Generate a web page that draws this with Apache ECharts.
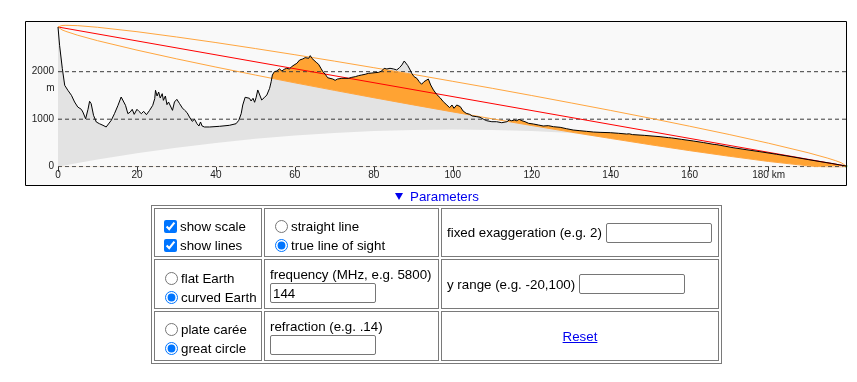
<!DOCTYPE html>
<html>
<head>
<meta charset="utf-8">
<script src="https://cdn.jsdelivr.net/npm/echarts@6/dist/echarts.min.js"></script>
<style>
html,body{margin:0;padding:0;background:#fff;}
body{width:857px;height:382px;position:relative;overflow:hidden;font-family:'Liberation Sans',Arial,sans-serif;font-size:13.33px;color:#000;}
#chart{position:absolute;left:0;top:0;width:857px;height:190px;}
#ptri{position:absolute;left:395px;top:193px;width:0;height:0;border-left:4px solid transparent;border-right:4px solid transparent;border-top:7px solid #0000ee;}
#ptext{position:absolute;left:410px;top:189px;line-height:16px;color:#0000ee;white-space:nowrap;}
#params{position:absolute;left:151px;top:205px;border:1px solid #7a7a7a;border-spacing:2px;border-collapse:separate;}
#params td{border:1px solid #7a7a7a;padding:0;vertical-align:top;white-space:nowrap;}
.c1{width:106px;} .c2{width:173px;} .c3{width:276px;}
.r1{height:47px;} .r2{height:48px;} .r3{height:48px;}
.ln{display:flex;align-items:center;height:19px;}
.ln input[type=checkbox]{margin:0 3px 0 9px;width:13px;height:13px;}
.ln input[type=radio]{margin:0 3px 0 10px;width:13px;height:13px;}
#params td.c3{vertical-align:middle;}
.mid{display:flex;align-items:center;padding-left:5px;}
.tb{width:106px;height:20px;box-sizing:border-box;border:1px solid #767676;border-radius:2px;padding:1px 2px;margin:0 0 0 4px;font:13.33px 'Liberation Sans',Arial,sans-serif;background:#fff;}
.lbl{height:16px;line-height:16px;}
a.rs{color:#0000ee;text-decoration:underline;}
</style>
</head>
<body>
<div id="chart"></div>
<div id="ptri"></div><div id="ptext">Parameters</div>
<table id="params">
<tr>
 <td class="c1 r1"><div style="padding-top:7.5px">
  <div class="ln"><input type="checkbox" checked><span>show scale</span></div>
  <div class="ln"><input type="checkbox" checked><span>show lines</span></div>
 </div></td>
 <td class="c2 r1"><div style="padding-top:7.5px">
  <div class="ln"><input type="radio" name="los"><span>straight line</span></div>
  <div class="ln"><input type="radio" name="los" checked><span>true line of sight</span></div>
 </div></td>
 <td class="c3 r1"><div class="mid"><span>fixed exaggeration (e.g. 2)</span><input type="text" class="tb"></div></td>
</tr>
<tr>
 <td class="c1 r2"><div style="padding-top:8.5px">
  <div class="ln"><input type="radio" name="earth"><span>flat Earth</span></div>
  <div class="ln"><input type="radio" name="earth" checked><span>curved Earth</span></div>
 </div></td>
 <td class="c2 r2"><div style="padding:7px 0 0 5px">
  <div class="lbl">frequency (MHz, e.g. 5800)</div>
  <input type="text" class="tb" style="margin:0;display:block" value="144">
 </div></td>
 <td class="c3 r2"><div class="mid"><span>y range (e.g. -20,100)</span><input type="text" class="tb"></div></td>
</tr>
<tr>
 <td class="c1 r3"><div style="padding-top:7.5px">
  <div class="ln"><input type="radio" name="proj"><span>plate carée</span></div>
  <div class="ln"><input type="radio" name="proj" checked><span>great circle</span></div>
 </div></td>
 <td class="c2 r3"><div style="padding:6.5px 0 0 5px">
  <div class="lbl">refraction (e.g. .14)</div>
  <input type="text" class="tb" style="margin:0;display:block">
 </div></td>
 <td class="c3 r3" style="text-align:center"><a class="rs" href="#">Reset</a></td>
</tr>
</table>
<script>
// ---- data ----
const xTicks = [0, 20, 40, 60, 80, 100, 120, 140, 160, 180];
const xTickLabels = ['0', '20', '40', '60', '80', '100', '120', '140', '160', '180 km'];
const yTicks = [0, 1000, 2000];
const yTickLabels = ['0', '1000', '2000'];
const yUnit = 'm';
const pathLengthKm = 199.6;

// terrain profile [km, metres] (drawn on curved Earth)
const terrain = [
[0,2941],[0.4,2555],[1.1,2063],[1.7,1713],[2.5,1608],[3.4,1503],[4.2,1362],[5.0,1257],[5.9,1208],[6.3,1151],
[7.0,1010],[7.6,1208],[8.0,1377],[8.4,1327],[9.0,1082],[9.7,941],[10.5,905],[11.4,871],[12.2,836],[12.7,850],
[13.5,977],[14.3,1116],[15.2,1292],[16.0,1467],[16.5,1432],[17.1,1292],[17.7,1116],[18.3,1151],[18.8,1208],[19.3,1102],
[20.0,1208],[20.5,1165],[21.1,1116],[21.7,1165],[22.4,1095],[23.2,1186],[24.0,1292],[24.5,1432],[24.7,1608],[25.1,1488],
[25.5,1572],[25.9,1446],[26.4,1537],[26.7,1397],[27.2,1488],[27.6,1306],[28.0,1362],[28.5,1327],[29.0,1186],[29.5,1362],
[30.1,1418],[30.8,1327],[31.5,1236],[32.1,1186],[32.7,1137],[33.3,1046],[34.0,955],[34.6,998],[35.2,905],[35.7,857],
[36.1,941],[36.5,857],[37.1,836],[38.4,836],[40.9,850],[43.4,871],[45.1,905],[45.8,977],[46.4,1116],[46.8,1299],
[47.4,1461],[47.8,1503],[48.5,1440],[48.9,1383],[49.4,1440],[49.8,1356],[50.2,1461],[50.6,1615],[51.1,1509],[51.6,1404],
[52.2,1450],[52.9,1509],[53.6,1650],[54.0,1789],[54.3,1930],[54.8,2000],[55.4,2015],[56.1,2057],[56.7,2015],[57.3,2050],
[57.9,2071],[58.6,2057],[59.2,2106],[59.8,2141],[60.5,2176],[61.2,2246],[62.0,2268],[62.6,2296],[63.0,2317],[63.5,2282],
[63.9,2338],[64.3,2282],[64.7,2246],[65.4,2198],[66.0,2156],[66.6,2071],[67.1,2000],[67.7,1945],[68.3,1873],[68.9,1860],
[69.6,1846],[70.2,1818],[70.8,1846],[71.3,1825],[71.9,1860],[72.7,1860],[73.6,1860],[74.4,1881],[75.3,1895],[76.1,1916],
[76.9,1930],[77.8,1945],[78.6,1965],[79.5,1972],[80.3,1979],[81.2,1986],[82.0,2015],[82.6,2071],[83.3,2057],[84.1,2071],
[85.0,2057],[85.8,2036],[86.5,2085],[87.1,2141],[87.7,2225],[88.1,2197],[88.6,2127],[89.2,2036],[89.6,1965],[90.2,1895],
[90.9,1860],[91.5,1789],[92.1,1735],[92.7,1789],[93.2,1825],[93.8,1846],[94.4,1720],[95.1,1615],[95.9,1524],[96.8,1450],
[97.6,1368],[98.5,1299],[99.2,1243],[99.8,1299],[100.3,1229],[101.0,1299],[101.5,1327],[101.9,1264],[102.6,1173],[103.4,1124],
[104.3,1102],[104.9,1067],[105.3,1050],[106.1,1053],[106.9,1040],[107.8,998],[108.6,968],[109.9,947],[111.1,947],[112.4,926],
[113.7,947],[114.3,983],[114.9,968],[115.6,983],[116.2,968],[116.8,998],[117.5,968],[118.3,947],[119.2,913],[120.4,899],
[121.7,878],[122.9,857],[124.2,864],[125.5,842],[127.2,829],[128.8,800],[130.5,772],[132.2,758],[133.9,744],[135.6,730],
[137.3,723],[139.9,716],[142.0,703],[144.0,688],[144.3,720],[144.7,692],[145.5,676],[148.5,660],[152.5,632],[154.6,612],
[155.0,592],[155.4,606],[158.0,575],[160.9,541],[163.5,508],[166.2,468],[166.5,452],[166.9,464],[171.0,400],[174.5,356],
[177.8,316],[182.0,262],[186.2,205],[190.0,150],[193.0,108],[196.0,68],[198.0,38],[199.6,15]
];

// smooth curves sampled at these distances
const curveKm      = [0,1,2,5,10,20,30,40,50,60,70,80,90,100,110,120,130,140,150,160,170,180,190,195,197,198.5,199.6];
const earthBulge   = [0,16,31,76,149,282,399,501,587,657,712,751,774,782,774,750,710,655,584,497,395,277,143,70,40,17,0];
const fresnelUpper = [2941,2972,2976,2969,2935,2842,2731,2613,2487,2357,2223,2084,1943,1797,1650,1498,1342,1184,1021,852,678,494,294,179,126,79,15];
const fresnelLower = [2941,2881,2848,2767,2653,2454,2271,2097,1929,1765,1607,1452,1301,1153,1008,866,728,594,463,338,220,110,18,-15,-20,-17,15];
const lineOfSight  = [[0,2941],[199.6,15]];
const endPoint     = [[199.6,15]];

// ---- chart ----
const GRAY = '#e3e3e3', BG = '#f9f9f9', ORANGE = '#ffa333', ORANGE_LINE = '#ffa53e', RED = '#ff0000';
const FONT = "'Liberation Sans', Arial, sans-serif";
const pairs = (xs, ys) => xs.map((x, i) => [x, ys[i]]);
// lower edge of the clear (background) zone under the Fresnel zone
const clearUnder = fresnelLower.map((v, i) => Math.min(v, earthBulge[i]));
const base = { type: 'line', symbol: 'none', showSymbol: false, silent: true, animation: false };
const noLine = { width: 0, opacity: 0 };
const fill = (data, color, origin) => ({ ...base, data, lineStyle: noLine, areaStyle: { color, opacity: 1, origin } });

const chart = echarts.init(document.getElementById('chart'));
const series = [
  fill(terrain, GRAY, 0),                              // ground below terrain
  fill(pairs(curveKm, earthBulge), BG, 0),             // below the Earth's curve
  fill(pairs(curveKm, fresnelUpper), ORANGE, 0),       // Fresnel zone (upper part)
  fill(pairs(curveKm, fresnelLower), GRAY, 0),         // restore below lower Fresnel edge
  fill(pairs(curveKm, clearUnder), BG, 0),             // restore below Earth's curve
  fill(terrain, BG, 'end')                             // sky above terrain
];
yTicks.forEach(v => series.push({ ...base, data: [[0, v], [pathLengthKm, v]], lineStyle: { color: '#3a3a3a', width: 1, type: [4, 3] } }));
series.push(
  { ...base, name: 'los', data: lineOfSight, lineStyle: { color: RED, width: 1 } },
  { ...base, name: 'fzUpper', data: pairs(curveKm, fresnelUpper), lineStyle: { color: ORANGE_LINE, width: 1 } },
  { ...base, name: 'fzLower', data: pairs(curveKm, fresnelLower), lineStyle: { color: ORANGE_LINE, width: 1 } },
  { ...base, name: 'terrain', data: terrain, lineStyle: { color: '#000', width: 1 } },
  { type: 'scatter', data: endPoint, symbolSize: 3, itemStyle: { color: '#33cc33' }, silent: true, animation: false }
);

chart.setOption({
  animation: false,
  backgroundColor: 'transparent',
  grid: { left: 58, right: 11, top: 21, bottom: 23.3, containLabel: false, outerBoundsMode: 'none' },
  xAxis: {
    type: 'value', min: 0, max: pathLengthKm, interval: 20,
    splitLine: { show: false },
    axisLine: { show: false },
    axisTick: { show: true, customValues: xTicks, length: 5, lineStyle: { color: '#333', width: 1 } },
    axisLabel: { customValues: xTicks, margin: 4, fontSize: 10, fontFamily: FONT, color: '#222',
      formatter: v => { const i = xTicks.indexOf(v); return i >= 0 ? xTickLabels[i] : ''; } }
  },
  yAxis: {
    type: 'value', min: 0, max: 3067,
    splitLine: { show: false }, axisLine: { show: false }, axisTick: { show: false },
    axisLabel: { customValues: yTicks, margin: 4, fontSize: 10, fontFamily: FONT, color: '#222',
      formatter: v => { const i = yTicks.indexOf(v); return i >= 0 ? yTickLabels[i] : ''; } }
  },
  series: series
});

const p2000 = chart.convertToPixel({ gridIndex: 0 }, [0, yTicks[2]]);
chart.setOption({
  graphic: [
    { type: 'rect', z: -10, silent: true, shape: { x: 25.5, y: 21.5, width: 821, height: 164 }, style: { fill: BG, stroke: null } },
    { type: 'rect', z: 100, silent: true, shape: { x: 25.5, y: 21.5, width: 821, height: 164 }, style: { fill: null, stroke: '#000', lineWidth: 1 } },
    { type: 'text', z: 100, silent: true, x: p2000[0] - 3.5, y: p2000[1] + 17,
      style: { text: yUnit, fill: '#222', font: "10px 'Liberation Sans', Arial, sans-serif", align: 'right', verticalAlign: 'middle' } }
  ]
});
</script>
</body>
</html>
